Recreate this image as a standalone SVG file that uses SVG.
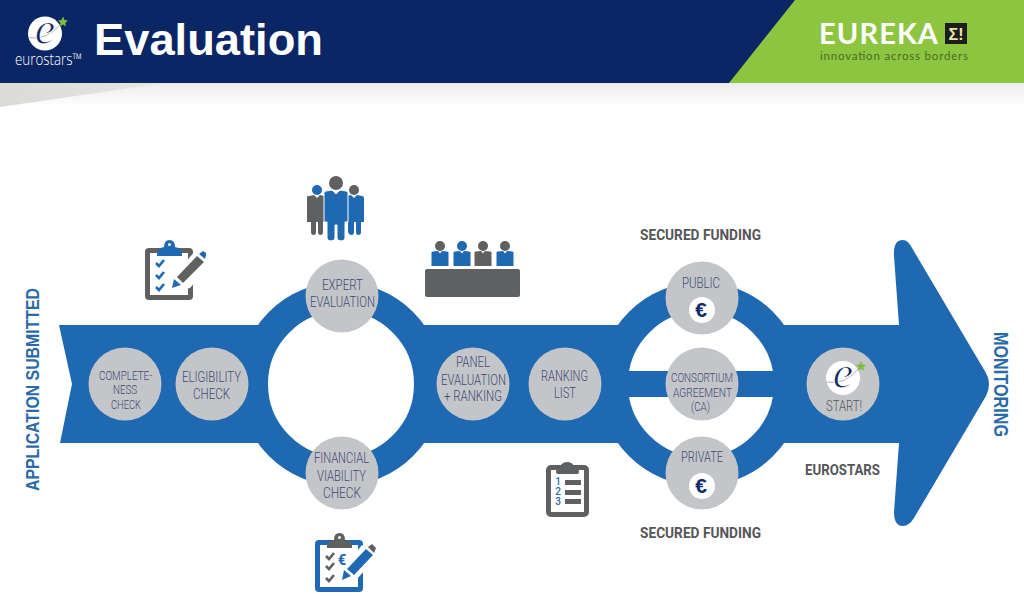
<svg xmlns="http://www.w3.org/2000/svg" width="1024" height="596" viewBox="0 0 1024 596">
<style>
.band{fill:#1f69b3}
.node{fill:#c4c5c8}
.l{font-family:"Roboto","Liberation Sans",sans-serif;font-size:14px;fill:#3f4a75;font-weight:300}
.s{font-size:12.5px}
.h{font-family:"Roboto","Liberation Sans",sans-serif;font-size:14px;font-weight:700;fill:#555659}
.side{font-family:"Liberation Sans",sans-serif;font-weight:700;fill:#2a6aa8}
.eur{font-family:"Liberation Sans",sans-serif;font-size:21px;font-weight:700;fill:#12296b;text-anchor:middle}
.num{font-family:"Roboto",sans-serif;font-size:10px;font-weight:500;fill:#2a6aa8;text-anchor:middle}
.g{fill:#5f6062}
.b{fill:#1f69b3}
.tick{fill:none;stroke-width:2.6}
</style>
<defs>
<linearGradient id="shade" x1="0" y1="0" x2="0" y2="1"><stop offset="0" stop-color="#ececec"/><stop offset="1" stop-color="#ffffff"/></linearGradient>
<linearGradient id="wedge" x1="0" y1="0" x2="1" y2="0"><stop offset="0" stop-color="#dadad8"/><stop offset="1" stop-color="#e6e6e4"/></linearGradient>
<g id="elogo">
<circle cx="0" cy="0" r="17" fill="#fff"/>
<path d="M-17 4Q2 8 17 -11" fill="none" stroke="#9a9ea8" stroke-width="0.8"/>
<text x="0" y="10" font-family="Liberation Serif,serif" font-style="italic" font-size="46" font-weight="400" fill="#14275f" stroke="#fff" stroke-width="1" text-anchor="middle">e</text>
<polygon points="18,-17 19.500,-13.500 23,-13 20.300,-10.500 21,-7 18,-9 15,-7 15.700,-10.500 13,-13 16.500,-13.500" fill="#7fbe3c"/>
</g>
<g id="person"><path d="M-8.500 6.500Q-8.500 5.500 -7 5.500L-2 5 0 7.500 2 5 7 5.500Q8.500 5.500 8.500 6.500V20H-8.500Z"/></g>
</defs>

<g id="header">
<rect x="0" y="83" width="1024" height="24" fill="url(#shade)"/>
<polygon points="0,83 165,83 0,107" fill="url(#wedge)"/>
<rect x="0" y="0" width="1024" height="83" fill="#0b2665"/>
<polygon points="795,0 1024,0 1024,83 729,83" fill="#8cc540"/>
<text x="94" y="55" font-family="Liberation Sans,sans-serif" font-size="45" font-weight="700" fill="#fff" textLength="229" lengthAdjust="spacingAndGlyphs">Evaluation</text>
<use href="#elogo" x="45" y="33.500"/>
<text x="15" y="65" font-family="Open Sans,sans-serif" font-size="16" font-weight="300" fill="#fff" textLength="67" lengthAdjust="spacingAndGlyphs">eurostars™</text>
<text x="819" y="44" font-family="Lato,sans-serif" font-size="29" font-weight="700" fill="#fff" textLength="119" lengthAdjust="spacing">EUREKA</text>
<rect x="945" y="23" width="22" height="21" fill="#1d1d1b"/>
<text x="956" y="40" font-family="Liberation Sans,sans-serif" font-size="16" font-weight="700" fill="#e6e8b0" text-anchor="middle">Σ!</text>
<text x="820" y="60" font-family="Lato,sans-serif" font-size="11.500" fill="#4d6b2a" textLength="148" lengthAdjust="spacing">innovation across borders</text>
</g>

<g id="connectors">
<polygon class="band" points="59,325 905,325 905,443 60,443 72,384"/>
<path class="band" d="M899 325L894 256Q893 240 903 240Q908 240 912 248L986 373Q992 384 986 396L914 518Q909 526 903 526Q894 526 894 512L899 443Z"/>
<circle cx="341" cy="384" r="87.500" fill="#fff" stroke="#1f69b3" stroke-width="29"/>
<circle cx="701" cy="384" r="87.500" fill="#fff" stroke="#1f69b3" stroke-width="29"/>
<rect class="band" x="625" y="371" width="152" height="26"/>
</g>

<g id="application-submitted"><text class="side" transform="translate(39 491) rotate(-90)" font-size="18" textLength="203" lengthAdjust="spacingAndGlyphs">APPLICATION SUBMITTED</text></g>
<g id="monitoring"><text class="side" transform="translate(994 332) rotate(90)" font-size="21" textLength="105" lengthAdjust="spacingAndGlyphs">MONITORING</text></g>

<g id="completeness-check">
<circle class="node" cx="125" cy="384" r="36.500"/>
<text class="l s" x="99" y="380" textLength="53" lengthAdjust="spacingAndGlyphs">COMPLETE-</text>
<text class="l s" x="113" y="394" textLength="24" lengthAdjust="spacingAndGlyphs">NESS</text>
<text class="l s" x="111" y="409" textLength="30" lengthAdjust="spacingAndGlyphs">CHECK</text>
</g>
<g id="eligibility-check">
<circle class="node" cx="212" cy="384" r="36.500"/>
<text class="l" x="182" y="382" textLength="59" lengthAdjust="spacingAndGlyphs">ELIGIBILITY</text>
<text class="l" x="193" y="399" textLength="37" lengthAdjust="spacingAndGlyphs">CHECK</text>
</g>
<g id="expert-evaluation">
<circle class="node" cx="342" cy="296" r="36.500"/>
<text class="l" x="322" y="290" textLength="41" lengthAdjust="spacingAndGlyphs">EXPERT</text>
<text class="l" x="310" y="307" textLength="65" lengthAdjust="spacingAndGlyphs">EVALUATION</text>
</g>
<g id="financial-viability-check">
<circle class="node" cx="342" cy="473" r="36.500"/>
<text class="l" x="314" y="463" textLength="55" lengthAdjust="spacingAndGlyphs">FINANCIAL</text>
<text class="l" x="317" y="481" textLength="49" lengthAdjust="spacingAndGlyphs">VIABILITY</text>
<text class="l" x="323" y="498" textLength="38" lengthAdjust="spacingAndGlyphs">CHECK</text>
</g>
<g id="panel-evaluation">
<circle class="node" cx="473" cy="384" r="36.500"/>
<text class="l" x="456" y="367" textLength="34" lengthAdjust="spacingAndGlyphs">PANEL</text>
<text class="l" x="441" y="385" textLength="65" lengthAdjust="spacingAndGlyphs">EVALUATION</text>
<text class="l" x="444" y="401" textLength="58" lengthAdjust="spacingAndGlyphs">+ RANKING</text>
</g>
<g id="ranking-list">
<circle class="node" cx="565" cy="384" r="36.500"/>
<text class="l" x="541" y="381" textLength="47" lengthAdjust="spacingAndGlyphs">RANKING</text>
<text class="l" x="554" y="398" textLength="22" lengthAdjust="spacingAndGlyphs">LIST</text>
</g>
<g id="public">
<circle class="node" cx="702" cy="298" r="36.500"/>
<text class="l" x="682" y="288" textLength="38" lengthAdjust="spacingAndGlyphs">PUBLIC</text>
<circle cx="702" cy="310" r="13" fill="#fff"/>
<text class="eur" x="701" y="317">€</text>
</g>
<g id="consortium-agreement">
<circle class="node" cx="702" cy="384" r="36.500"/>
<text class="l s" x="671" y="382" textLength="62" lengthAdjust="spacingAndGlyphs">CONSORTIUM</text>
<text class="l s" x="673" y="397" textLength="59" lengthAdjust="spacingAndGlyphs">AGREEMENT</text>
<text class="l s" x="691" y="411" textLength="19" lengthAdjust="spacingAndGlyphs">(CA)</text>
</g>
<g id="private">
<circle class="node" cx="702" cy="473" r="36.500"/>
<text class="l" x="681" y="462" textLength="42" lengthAdjust="spacingAndGlyphs">PRIVATE</text>
<circle cx="702" cy="486" r="13" fill="#fff"/>
<text class="eur" x="701" y="493">€</text>
</g>
<g id="start">
<circle class="node" cx="843" cy="384" r="36.500"/>
<use href="#elogo" x="843" y="378"/>
<text class="l" x="826" y="411" textLength="36" lengthAdjust="spacingAndGlyphs" style="fill:#555659">START!</text>
</g>

<g id="secured-funding-top"><text class="h" x="640" y="240" textLength="121" lengthAdjust="spacingAndGlyphs">SECURED FUNDING</text></g>
<g id="secured-funding-bottom"><text class="h" x="640" y="538" textLength="121" lengthAdjust="spacingAndGlyphs">SECURED FUNDING</text></g>
<g id="eurostars-label"><text class="h" x="805" y="475" textLength="75" lengthAdjust="spacingAndGlyphs">EUROSTARS</text></g>

<g id="icon-checklist">
<rect x="147.500" y="250.500" width="43" height="47" rx="1.500" fill="#fff" stroke="#5f6062" stroke-width="5"/>
<path class="b" d="M157 256Q156 248 164 247Q164 240 169.500 240Q175 240 175 247Q183 248 182 256Z"/>
<circle cx="169.500" cy="244.500" r="1.500" fill="#fff"/>
<path class="tick" stroke="#1f69b3" d="M156 263l3 3 5-6M156 275l3 3 5-6M156 287l3 3 5-6"/>
<polygon points="170,292 177,272 196,250 212,262 190,288" fill="#fff"/>
<polygon class="b" points="172,288 174,279 181,285"/>
<polygon class="g" points="177,277 197,256 204,262 183,283"/>
<polygon class="b" points="199,254 203,251 206,253 206,255 205,259"/>
</g>

<g id="icon-experts">
<circle class="b" cx="317" cy="190" r="5"/>
<path class="g" d="M307 197Q307 196 309 196L314 195 317 198 320 195 324 196V222H323V232Q323 235 320.500 235Q318 235 318 232V222H316V232Q316 235 313.500 235Q311 235 311 232V222H307Z"/>
<circle class="g" cx="354" cy="190" r="5"/>
<path class="b" d="M347 196L351 195 354 198 357 195 362 196Q364 196 364 198V222H361V232Q361 235 358.500 235Q356 235 356 232V222H354V232Q354 235 351.500 235Q349 235 348 232V222H347Z"/>
<circle cx="336" cy="183" r="7" fill="#5f6062"/>
<path class="b" d="M324 193Q324 191 326 191L332 190 336 194 340 190 346 191Q348 191 348 193V222H345V238Q345 241 341 241Q337 241 337 238V225H335V238Q335 241 331 241Q327 241 327 238V222H324Z" stroke="#fff" stroke-width="1"/>
</g>

<g id="icon-panel">
<rect class="g" x="425" y="269" width="95" height="28" rx="2"/>
<circle class="g" cx="440" cy="246" r="5"/><use href="#person" class="b" x="440" y="246"/>
<circle class="b" cx="462" cy="246" r="5"/><use href="#person" class="b" x="462" y="246"/>
<circle class="g" cx="483" cy="246" r="5"/><use href="#person" class="g" x="483" y="246"/>
<circle class="g" cx="505" cy="246" r="5"/><use href="#person" class="b" x="505" y="246"/>
</g>

<g id="icon-ranking">
<rect x="548.500" y="467.500" width="38" height="47" rx="2.500" fill="#fff" stroke="#5f6062" stroke-width="5"/>
<path class="g" d="M556 472Q556 466 560 466Q563 462 567 462Q572 462 574 466Q579 466 579 472Q579 474 576 474H559Q556 474 556 472Z"/>
<text class="num" x="558" y="485">1</text>
<text class="num" x="558" y="495">2</text>
<text class="num" x="558" y="504.500">3</text>
<rect class="g" x="565" y="480" width="16" height="5"/>
<rect class="g" x="565" y="490" width="16" height="5"/>
<rect class="g" x="565" y="499" width="16" height="5"/>
</g>

<g id="icon-financial">
<rect x="317.500" y="542.500" width="43" height="47" rx="1.500" fill="#fff" stroke="#1f69b3" stroke-width="5"/>
<path class="g" d="M327 548Q326 541 334 540Q334 533 339.500 533Q345 533 345 540Q353 541 352 548Z"/>
<circle cx="339.500" cy="537.500" r="1.500" fill="#fff"/>
<path class="tick" stroke="#5f6062" d="M326 556l3 3 5-6M326 566l3 3 5-6M326 578l3 3 5-6"/>
<text x="342" y="565" font-family="Roboto,sans-serif" font-size="15" font-weight="700" fill="#1f69b3" text-anchor="middle">€</text>
<polygon points="338,582 343,568 362,545 378,556 356,580" fill="#fff"/>
<polygon class="b" points="342,580 344,570 351,576"/>
<polygon class="b" points="347,569 366,549 373,555 354,575"/>
<polygon class="g" points="368,547 372,544 376,548 374,553"/>
</g>
</svg>
